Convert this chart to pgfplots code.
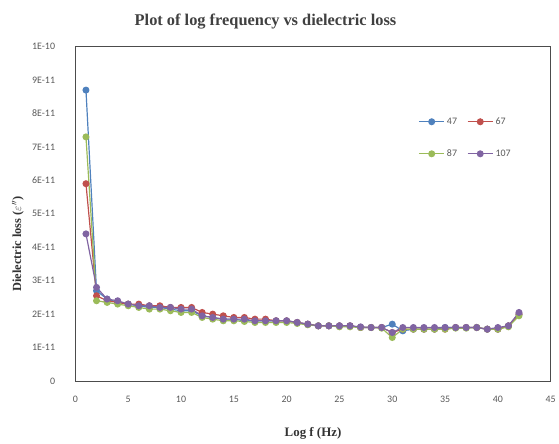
\documentclass[border=0pt]{standalone}
\usepackage{pgfplots}
\pgfplotsset{compat=1.18}
\usepackage{fontspec}
\setmainfont{Liberation Serif}
\newfontfamily\tickfont{Carlito}
\definecolor{sBlue}{HTML}{4F81BD}
\definecolor{sRed}{HTML}{C0504D}
\definecolor{sGreen}{HTML}{9BBB59}
\definecolor{sPurple}{HTML}{8064A2}
\definecolor{tickgray}{HTML}{595959}
\begin{document}
\begin{tikzpicture}[x=1pt,y=1pt]
\begin{axis}[
  name=ax,
  at={(76pt,53pt)}, anchor=south west,
  scale only axis, width=479pt, height=337pt,
  xmin=0, xmax=45, ymin=0, ymax=10,
  xtick={0,5,...,45}, ytick={0,1,...,10},
  yticklabels={0,1E-11,2E-11,3E-11,4E-11,5E-11,6E-11,7E-11,8E-11,9E-11,1E-10},
  major tick length=0pt,
  axis line style={draw=black!70, line width=0.9pt},
  tick label style={font=\tickfont\fontsize{10}{11}\selectfont, text=tickgray},
  /pgf/number format/assume math mode=true,
  xticklabel style={yshift=-12pt},
  yticklabel style={xshift=-17pt},
  xlabel={\textbf{Log f (Hz)}},
  ylabel={\textbf{Dielectric loss ($\varepsilon''$)}},
  xlabel style={font=\fontsize{13}{15}\selectfont, text=black!80,
    at={(axis description cs:0.5,-0.158)}, anchor=center},
  ylabel style={font=\fontsize{12.5}{15}\selectfont, text=black!80,
    at={(axis description cs:-0.121,0.41)}, anchor=center},
  title={\textbf{Plot of log frequency vs dielectric loss}},
  title style={font=\fontsize{16.5}{19}\selectfont, text=black!75,
    at={(axis description cs:0.40,1.058)}, anchor=center},
  legend style={draw=none, fill=none, at={(0.715,0.80)}, anchor=north west,
    font=\tickfont\fontsize{10}{11}\selectfont, row sep=20pt,
    /tikz/every even column/.append style={column sep=8pt}},
  legend columns=2,
  legend cell align=left,
  every axis plot/.append style={line width=1.2pt, mark=*, mark size=2.9pt},
]
\addplot[color=sBlue, forget plot] coordinates {
(1,8.7)(2,2.7)(3,2.45)(4,2.35)(5,2.3)(6,2.25)(7,2.2)(8,2.2)(9,2.15)(10,2.1)(11,2.1)
(12,1.95)(13,1.9)(14,1.85)(15,1.85)(16,1.8)(17,1.8)(18,1.8)(19,1.8)(20,1.8)(21,1.75)
(22,1.7)(23,1.65)(24,1.65)(25,1.65)(26,1.65)(27,1.6)(28,1.6)(29,1.6)(30,1.7)(31,1.5)
(32,1.55)(33,1.55)(34,1.55)(35,1.6)(36,1.6)(37,1.6)(38,1.6)(39,1.55)(40,1.55)(41,1.65)(42,2.0)};
\addplot[color=sRed, forget plot] coordinates {
(1,5.9)(2,2.55)(3,2.4)(4,2.35)(5,2.3)(6,2.3)(7,2.25)(8,2.25)(9,2.2)(10,2.2)(11,2.2)
(12,2.05)(13,2.0)(14,1.95)(15,1.9)(16,1.9)(17,1.85)(18,1.85)(19,1.8)(20,1.8)(21,1.75)
(22,1.7)(23,1.65)(24,1.65)(25,1.65)(26,1.65)(27,1.6)(28,1.6)(29,1.6)(30,1.45)(31,1.55)
(32,1.55)(33,1.55)(34,1.55)(35,1.55)(36,1.6)(37,1.6)(38,1.6)(39,1.55)(40,1.55)(41,1.65)(42,2.0)};
\addplot[color=sGreen, forget plot] coordinates {
(1,7.3)(2,2.4)(3,2.35)(4,2.3)(5,2.25)(6,2.2)(7,2.15)(8,2.15)(9,2.1)(10,2.05)(11,2.05)
(12,1.9)(13,1.85)(14,1.8)(15,1.8)(16,1.78)(17,1.75)(18,1.75)(19,1.75)(20,1.75)(21,1.72)
(22,1.68)(23,1.65)(24,1.65)(25,1.62)(26,1.62)(27,1.6)(28,1.6)(29,1.58)(30,1.3)(31,1.55)
(32,1.55)(33,1.55)(34,1.55)(35,1.55)(36,1.58)(37,1.58)(38,1.6)(39,1.55)(40,1.55)(41,1.62)(42,1.95)};
\addplot[color=sPurple, forget plot] coordinates {
(1,4.4)(2,2.8)(3,2.45)(4,2.4)(5,2.3)(6,2.25)(7,2.25)(8,2.2)(9,2.2)(10,2.15)(11,2.15)
(12,1.95)(13,1.9)(14,1.85)(15,1.85)(16,1.85)(17,1.8)(18,1.8)(19,1.8)(20,1.8)(21,1.75)
(22,1.7)(23,1.65)(24,1.65)(25,1.65)(26,1.65)(27,1.62)(28,1.6)(29,1.6)(30,1.45)(31,1.6)
(32,1.6)(33,1.6)(34,1.6)(35,1.6)(36,1.6)(37,1.6)(38,1.6)(39,1.55)(40,1.6)(41,1.65)(42,2.05)};
\addlegendimage{legend image code/.code={
  \draw[sBlue, line width=1.2pt] (0cm,0cm) -- (0.9cm,0cm);
  \fill[sBlue] (0.45cm,0cm) circle (2.9pt);}}
\addlegendentry{\textcolor{tickgray}{47}}
\addlegendimage{legend image code/.code={
  \draw[sRed, line width=1.2pt] (0cm,0cm) -- (0.9cm,0cm);
  \fill[sRed] (0.45cm,0cm) circle (2.9pt);}}
\addlegendentry{\textcolor{tickgray}{67}}
\addlegendimage{legend image code/.code={
  \draw[sGreen, line width=1.2pt] (0cm,0cm) -- (0.9cm,0cm);
  \fill[sGreen] (0.45cm,0cm) circle (2.9pt);}}
\addlegendentry{\textcolor{tickgray}{87}}
\addlegendimage{legend image code/.code={
  \draw[sPurple, line width=1.2pt] (0cm,0cm) -- (0.9cm,0cm);
  \fill[sPurple] (0.45cm,0cm) circle (2.9pt);}}
\addlegendentry{\textcolor{tickgray}{107}}
\end{axis}
\path[use as bounding box] (0,0) rectangle (559,437);
\end{tikzpicture}
\end{document}
